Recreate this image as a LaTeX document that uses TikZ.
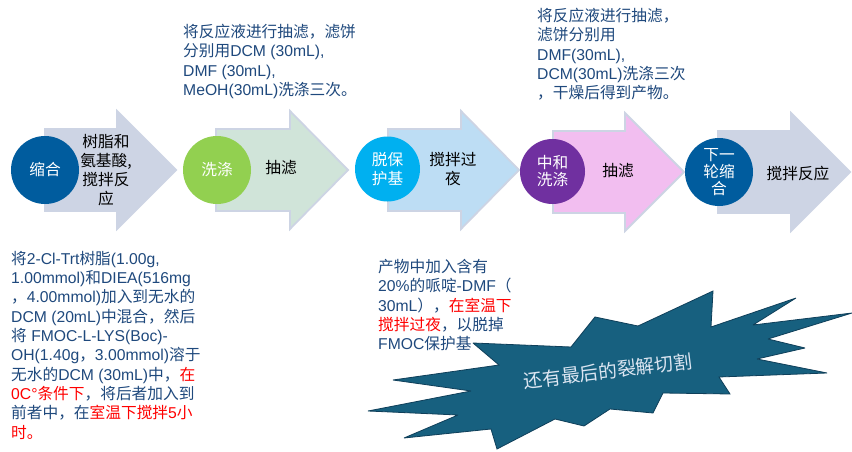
\documentclass[tikz,border=0pt]{standalone}
\usepackage{fontspec}
\setmainfont{Liberation Sans}
\newfontfamily\zhfont{Noto Sans CJK SC}
\newcommand\zh[1]{{\zhfont #1}}
\newcommand\rd[1]{\textcolor{red}{#1}}
\definecolor{blueA}{HTML}{005C9E}
\definecolor{greenA}{HTML}{92D050}
\definecolor{cyanA}{HTML}{00B0F0}
\definecolor{purpleA}{HTML}{7030A0}
\definecolor{edgeA}{HTML}{CDD4E4}
\definecolor{fillG}{HTML}{D0E4D9}
\definecolor{fillB}{HTML}{BDDDF4}
\definecolor{fillP}{HTML}{F2BEF0}
\definecolor{txtA}{HTML}{1F497D}
\definecolor{starA}{HTML}{17607F}
\definecolor{starB}{HTML}{0F3F5A}
\definecolor{starT}{HTML}{DCE6F2}
\tikzset{
 bigarrow/.style={draw=edgeA,line width=1.8pt,line join=miter},
 disc/.style={circle,draw=none,inner sep=0pt,minimum size=68pt,text=white,align=center,font=\fontsize{15.7}{17}\selectfont},
 arrowtext/.style={inner sep=0pt,text=black,align=center,font=\fontsize{15.7}{19}\selectfont},
 note/.style={anchor=north west,inner sep=0pt,text=txtA,align=left,font=\fontsize{15.7}{19.3}\selectfont},
}
\newcommand\arrowshape[6]{% left headx tip cy headhalf fill
 \draw[bigarrow,fill=#6] (#1,#4-#5+18) -- (#2,#4-#5+18) -- (#2,#4-#5) -- (#3,#4) -- (#2,#4+#5) -- (#2,#4+#5-18) -- (#1,#4+#5-18) -- cycle;
}
\begin{document}
\begin{tikzpicture}[x=1pt,y=-1pt]
\useasboundingbox (0,0) rectangle (852,452);
\fill[white] (0,0) rectangle (852,452);
\arrowshape{45}{117}{176}{170}{59}{edgeA}
\arrowshape{216}{290}{348}{170}{59}{fillG}
\arrowshape{388}{461}{519}{170}{59}{fillB}
\arrowshape{553}{625}{684}{172}{59}{fillP}
\arrowshape{718}{791}{850}{172}{59}{edgeA}

\node[disc,fill=blueA] (c1) at (45,170) {\zh{缩合}};
\node[disc,fill=greenA] (c2) at (217,170) {\zh{洗涤}};
\node[disc,fill=cyanA,minimum size=65pt,font=\fontsize{15.7}{19.5}\selectfont] (c3) at (387.5,169) {\zh{脱保}\\\zh{护基}};
\node[disc,fill=purpleA,minimum size=65pt] (c4) at (552.5,171.5) {\zh{中和}\\\zh{洗涤}};
\node[disc,fill=blueA] (c5) at (719,172) {\zh{下一}\\\zh{轮缩}\\\zh{合}};

\node[arrowtext] (t1) at (106,170) {\zh{树脂和}\\\zh{氨基酸,}\\\zh{搅拌反}\\\zh{应}};
\node[arrowtext] (t2) at (281,168) {\zh{抽滤}};
\node[arrowtext] (t3) at (453,169.5) {\zh{搅拌过}\\\zh{夜}};
\node[arrowtext] (t4) at (618,171) {\zh{抽滤}};
\node[arrowtext] (t5) at (798,174) {\zh{搅拌反应}};

\node[note] (n1) at (11,251) {\zh{将}2-Cl-Trt\zh{树脂}(1.00g,\\
1.00mmol)\zh{和}DIEA(516mg\\
\zh{，}4.00mmol)\zh{加入到无水的}\\
DCM (20mL)\zh{中混合，然后}\\
\zh{将} FMOC-L-LYS(Boc)-\\
OH(1.40g\zh{，}3.00mmol)\zh{溶于}\\
\zh{无水的}DCM (30mL)\zh{中，}\rd{\zh{在}}\\
\rd{0C°\zh{条件下}}\zh{，将后者加入到}\\
\zh{前者中，在}\rd{\zh{室温下搅拌}5\zh{小}}\\
\rd{\zh{时。}}};
\node[note] (n2) at (183,24) {\zh{将反应液进行抽滤，滤饼}\\
\zh{分别用}DCM (30mL),\\
DMF (30mL),\\
MeOH(30mL)\zh{洗涤三次。}};
\node[note] (n3) at (537,8) {\zh{将反应液进行抽滤，}\\
\zh{滤饼分别用}\\
DMF(30mL),\\
DCM(30mL)\zh{洗涤三次}\\
\zh{，干燥后得到产物。}};
\node[note] (n4) at (378,259) {\zh{产物中加入含有}\\
20\%\zh{的哌啶}-DMF\zh{（}\\
30mL\zh{），}\rd{\zh{在室温下}}\\
\rd{\zh{搅拌过夜}}\zh{，以脱掉}\\
FMOC\zh{保护基}};

\draw[fill=starA,draw=starB,line width=0.8pt,line join=miter,miter limit=3]
 (473,343) -- (571,347) -- (595,317) -- (638,326) -- (713,291) -- (711,327) -- (796,298) -- (753,325) -- (852,313) -- (768,339) -- (805,348) -- (757,359) -- (827,373) -- (719,377) -- (730,394) -- (663,393) -- (653,413) -- (610,409) -- (584,426) -- (555,419) -- (497,449) -- (491,429) -- (404,438) -- (458,415) -- (368,411) -- (471,391) -- (393,380) -- (499,365) -- cycle;
\node[rotate=7,inner sep=0pt,text=starT,font=\fontsize{18.8}{20}\selectfont] (s) at (608,371) {\zh{还有最后的裂解切割}};
\end{tikzpicture}
\end{document}
